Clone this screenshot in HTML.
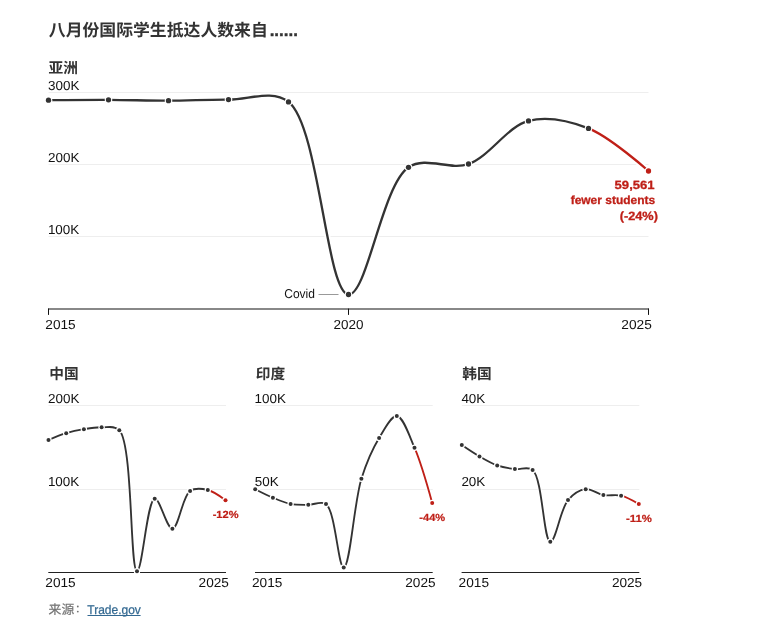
<!DOCTYPE html>
<html lang="zh"><head><meta charset="utf-8"><title>chart</title>
<style>
html,body{margin:0;padding:0;background:#fff;}
body{width:766px;height:638px;overflow:hidden;font-family:"Liberation Sans",sans-serif;}
svg{display:block;font-family:"Liberation Sans",sans-serif;}
</style></head><body>
<svg width="766" height="638" viewBox="0 0 766 638" style="will-change:transform;text-rendering:geometricPrecision">
<rect width="766" height="638" fill="#fff"/>
<text x="48.8" y="36" font-size="16.8" font-weight="bold" fill="#333" font-family="'Liberation Sans','Noto Sans CJK SC',sans-serif" textLength="219" lengthAdjust="spacingAndGlyphs">八月份国际学生抵达人数来自</text>
<text x="269.65" y="36" font-size="17" font-weight="bold" fill="#333" stroke="#333" stroke-width="0.4">......</text>
<text x="48.5" y="72.8" font-size="14.7" font-weight="bold" fill="#333" font-family="'Liberation Sans','Noto Sans CJK SC',sans-serif" textLength="29.4" lengthAdjust="spacingAndGlyphs">亚洲</text>
<line x1="48.5" y1="92.5" x2="648.5" y2="92.5" stroke="#eeeeee" stroke-width="1"/>
<text x="48.1" y="90" font-size="13" fill="#121212" textLength="31.4" lengthAdjust="spacingAndGlyphs">300K</text>
<line x1="48.5" y1="164.5" x2="648.5" y2="164.5" stroke="#eeeeee" stroke-width="1"/>
<text x="48.1" y="162" font-size="13" fill="#121212" textLength="31.4" lengthAdjust="spacingAndGlyphs">200K</text>
<line x1="48.5" y1="236.5" x2="648.5" y2="236.5" stroke="#eeeeee" stroke-width="1"/>
<text x="47.9" y="234" font-size="13" fill="#121212" textLength="31.4" lengthAdjust="spacingAndGlyphs">100K</text>
<line x1="48" y1="309" x2="649" y2="309" stroke="#121212" stroke-width="1.2"/>
<line x1="48.5" y1="308.6" x2="48.5" y2="314.9" stroke="#121212" stroke-width="1"/>
<line x1="348.5" y1="308.6" x2="348.5" y2="314.9" stroke="#121212" stroke-width="1"/>
<line x1="648.5" y1="308.6" x2="648.5" y2="314.9" stroke="#121212" stroke-width="1"/>
<text x="45.3" y="328.8" font-size="13" fill="#121212" textLength="30.4" lengthAdjust="spacingAndGlyphs">2015</text>
<text x="348.6" y="328.8" font-size="13" text-anchor="middle" fill="#121212" textLength="30" lengthAdjust="spacingAndGlyphs">2020</text>
<text x="651.8" y="328.8" font-size="13" text-anchor="end" fill="#121212" textLength="30.5" lengthAdjust="spacingAndGlyphs">2025</text>
<line x1="318.5" y1="294.5" x2="338.5" y2="294.5" stroke="#999" stroke-width="1"/>
<text x="284.2" y="298.3" font-size="12.8" fill="#121212" textLength="30.8" lengthAdjust="spacingAndGlyphs">Covid</text>
<path d="M48.5,100.2C48.5,100.2 88.5,99.72 108.5,99.8C128.5,99.88 148.5,100.73 168.5,100.7C188.5,100.67 208.5,99.4 228.5,99.6C248.5,99.8 271.71,89.04 288.5,101.9C319.28,125.47 326.35,292.96 348.5,294.5C367,295.79 382.09,185.08 408.5,167.3C425.76,155.68 449.43,170.72 468.5,164C489.64,156.55 507.39,126.27 528.5,120.9C547.59,116.04 569.39,120.97 588.5,128.4C609.58,136.6 648.5,171 648.5,171" fill="none" stroke="#fff" stroke-width="6" stroke-linecap="round"/>
<path d="M48.5,100.2C48.5,100.2 88.5,99.72 108.5,99.8C128.5,99.88 148.5,100.73 168.5,100.7C188.5,100.67 208.5,99.4 228.5,99.6C248.5,99.8 271.71,89.04 288.5,101.9C319.28,125.47 326.35,292.96 348.5,294.5C367,295.79 382.09,185.08 408.5,167.3C425.76,155.68 449.43,170.72 468.5,164C489.64,156.55 507.39,126.27 528.5,120.9C547.59,116.04 569.39,120.97 588.5,128.4" fill="none" stroke="#333" stroke-width="2.3"/>
<path d="M588.5,128.4C609.58,136.6 648.5,171 648.5,171" fill="none" stroke="#bf1f17" stroke-width="2.3"/>
<circle cx="48.5" cy="100.2" r="3.8" fill="#fff"/><circle cx="48.5" cy="100.2" r="2.65" fill="#333"/>
<circle cx="108.5" cy="99.8" r="3.8" fill="#fff"/><circle cx="108.5" cy="99.8" r="2.65" fill="#333"/>
<circle cx="168.5" cy="100.7" r="3.8" fill="#fff"/><circle cx="168.5" cy="100.7" r="2.65" fill="#333"/>
<circle cx="228.5" cy="99.6" r="3.8" fill="#fff"/><circle cx="228.5" cy="99.6" r="2.65" fill="#333"/>
<circle cx="288.5" cy="101.9" r="3.8" fill="#fff"/><circle cx="288.5" cy="101.9" r="2.65" fill="#333"/>
<circle cx="348.5" cy="294.5" r="3.8" fill="#fff"/><circle cx="348.5" cy="294.5" r="2.65" fill="#333"/>
<circle cx="408.5" cy="167.3" r="3.8" fill="#fff"/><circle cx="408.5" cy="167.3" r="2.65" fill="#333"/>
<circle cx="468.5" cy="164" r="3.8" fill="#fff"/><circle cx="468.5" cy="164" r="2.65" fill="#333"/>
<circle cx="528.5" cy="120.9" r="3.8" fill="#fff"/><circle cx="528.5" cy="120.9" r="2.65" fill="#333"/>
<circle cx="588.5" cy="128.4" r="3.8" fill="#fff"/><circle cx="588.5" cy="128.4" r="2.65" fill="#333"/>
<circle cx="648.5" cy="171" r="3.8" fill="#fff"/><circle cx="648.5" cy="171" r="2.65" fill="#bf1f17"/>
<text x="654.6" y="189" font-size="11.9" text-anchor="end" font-weight="bold" fill="#bf1f17" textLength="40" lengthAdjust="spacingAndGlyphs" stroke="#bf1f17" stroke-width="0.3">59,561</text>
<text x="655.1" y="204" font-size="11.8" text-anchor="end" font-weight="bold" fill="#bf1f17" textLength="84.4" lengthAdjust="spacingAndGlyphs" stroke="#bf1f17" stroke-width="0.3">fewer students</text>
<text x="657.9" y="220" font-size="12" text-anchor="end" font-weight="bold" fill="#bf1f17" textLength="38.2" lengthAdjust="spacingAndGlyphs" stroke="#bf1f17" stroke-width="0.3">(-24%)</text>
<text x="49.3" y="379.4" font-size="14.7" font-weight="bold" fill="#333" font-family="'Liberation Sans','Noto Sans CJK SC',sans-serif" textLength="29.4" lengthAdjust="spacingAndGlyphs">中国</text>
<line x1="48.5" y1="405.5" x2="226" y2="405.5" stroke="#eeeeee" stroke-width="1"/>
<text x="48.1" y="403" font-size="13" fill="#121212" textLength="31.4" lengthAdjust="spacingAndGlyphs">200K</text>
<line x1="48.5" y1="489.5" x2="226" y2="489.5" stroke="#eeeeee" stroke-width="1"/>
<text x="47.9" y="486" font-size="13" fill="#121212" textLength="31.4" lengthAdjust="spacingAndGlyphs">100K</text>
<line x1="48.3" y1="572.5" x2="226" y2="572.5" stroke="#222" stroke-width="1"/>
<text x="45.3" y="586.8" font-size="13" fill="#121212" textLength="30.4" lengthAdjust="spacingAndGlyphs">2015</text>
<text x="228.9" y="586.8" font-size="13" text-anchor="end" fill="#121212" textLength="30.3" lengthAdjust="spacingAndGlyphs">2025</text>
<path d="M48.5,440C48.5,440 60.23,435.01 66.2,433.2C72.04,431.43 77.97,430.18 83.9,429.2C89.77,428.22 95.71,427.14 101.6,427.3C107.51,427.46 114.4,425.11 119.3,430.2C133.11,444.53 129.8,570.89 137,571.3C142.22,571.6 147.17,499.81 154.7,498.7C159.84,497.94 166.74,528.97 172.4,528.7C178.59,528.41 182.3,496.27 190.1,491C195.19,487.56 202.09,488.65 207.8,490C213.92,491.45 225.5,500.2 225.5,500.2" fill="none" stroke="#fff" stroke-width="3.6" stroke-linecap="round"/>
<path d="M48.5,440C48.5,440 60.23,435.01 66.2,433.2C72.04,431.43 77.97,430.18 83.9,429.2C89.77,428.22 95.71,427.14 101.6,427.3C107.51,427.46 114.4,425.11 119.3,430.2C133.11,444.53 129.8,570.89 137,571.3C142.22,571.6 147.17,499.81 154.7,498.7C159.84,497.94 166.74,528.97 172.4,528.7C178.59,528.41 182.3,496.27 190.1,491C195.19,487.56 202.09,488.65 207.8,490" fill="none" stroke="#333" stroke-width="1.85"/>
<path d="M207.8,490C213.92,491.45 225.5,500.2 225.5,500.2" fill="none" stroke="#bf1f17" stroke-width="1.85"/>
<circle cx="48.5" cy="440" r="3.2" fill="#fff"/><circle cx="48.5" cy="440" r="2" fill="#333"/>
<circle cx="66.2" cy="433.2" r="3.2" fill="#fff"/><circle cx="66.2" cy="433.2" r="2" fill="#333"/>
<circle cx="83.9" cy="429.2" r="3.2" fill="#fff"/><circle cx="83.9" cy="429.2" r="2" fill="#333"/>
<circle cx="101.6" cy="427.3" r="3.2" fill="#fff"/><circle cx="101.6" cy="427.3" r="2" fill="#333"/>
<circle cx="119.3" cy="430.2" r="3.2" fill="#fff"/><circle cx="119.3" cy="430.2" r="2" fill="#333"/>
<circle cx="137" cy="571.3" r="3.2" fill="#fff"/><circle cx="137" cy="571.3" r="2" fill="#333"/>
<circle cx="154.7" cy="498.7" r="3.2" fill="#fff"/><circle cx="154.7" cy="498.7" r="2" fill="#333"/>
<circle cx="172.4" cy="528.7" r="3.2" fill="#fff"/><circle cx="172.4" cy="528.7" r="2" fill="#333"/>
<circle cx="190.1" cy="491" r="3.2" fill="#fff"/><circle cx="190.1" cy="491" r="2" fill="#333"/>
<circle cx="207.8" cy="490" r="3.2" fill="#fff"/><circle cx="207.8" cy="490" r="2" fill="#333"/>
<circle cx="225.5" cy="500.2" r="3.2" fill="#fff"/><circle cx="225.5" cy="500.2" r="2" fill="#bf1f17"/>
<text x="225.6" y="518.1" font-size="10.3" text-anchor="middle" font-weight="bold" fill="#bf1f17" textLength="25.9" lengthAdjust="spacingAndGlyphs" stroke="#bf1f17" stroke-width="0.2">-12%</text>
<text x="255.7" y="379.4" font-size="14.7" font-weight="bold" fill="#333" font-family="'Liberation Sans','Noto Sans CJK SC',sans-serif" textLength="29.4" lengthAdjust="spacingAndGlyphs">印度</text>
<line x1="255.2" y1="405.5" x2="432.7" y2="405.5" stroke="#eeeeee" stroke-width="1"/>
<text x="254.6" y="403" font-size="13" fill="#121212" textLength="31.4" lengthAdjust="spacingAndGlyphs">100K</text>
<line x1="255.2" y1="489.5" x2="432.7" y2="489.5" stroke="#eeeeee" stroke-width="1"/>
<text x="254.8" y="486" font-size="13" fill="#121212" textLength="23.9" lengthAdjust="spacingAndGlyphs">50K</text>
<line x1="255" y1="572.5" x2="432.7" y2="572.5" stroke="#222" stroke-width="1"/>
<text x="252" y="586.8" font-size="13" fill="#121212" textLength="30.4" lengthAdjust="spacingAndGlyphs">2015</text>
<text x="435.6" y="586.8" font-size="13" text-anchor="end" fill="#121212" textLength="30.3" lengthAdjust="spacingAndGlyphs">2025</text>
<path d="M255.2,489.2C255.2,489.2 266.93,495.23 272.9,497.7C278.73,500.11 284.61,502.72 290.6,503.9C296.42,505.04 302.4,504.77 308.3,504.8C314.2,504.83 321.07,500.51 326,504.1C335.5,511.02 338.2,567.71 343.7,567.5C350.15,567.26 354.02,502.39 361.4,478.8C366.57,462.26 372.36,449.15 379.1,438C384.47,429.11 391.23,415.53 396.8,416C403.12,416.53 409.14,435.37 414.5,447.7C421.27,463.28 432.2,502.9 432.2,502.9" fill="none" stroke="#fff" stroke-width="3.6" stroke-linecap="round"/>
<path d="M255.2,489.2C255.2,489.2 266.93,495.23 272.9,497.7C278.73,500.11 284.61,502.72 290.6,503.9C296.42,505.04 302.4,504.77 308.3,504.8C314.2,504.83 321.07,500.51 326,504.1C335.5,511.02 338.2,567.71 343.7,567.5C350.15,567.26 354.02,502.39 361.4,478.8C366.57,462.26 372.36,449.15 379.1,438C384.47,429.11 391.23,415.53 396.8,416C403.12,416.53 409.14,435.37 414.5,447.7" fill="none" stroke="#333" stroke-width="1.85"/>
<path d="M414.5,447.7C421.27,463.28 432.2,502.9 432.2,502.9" fill="none" stroke="#bf1f17" stroke-width="1.85"/>
<circle cx="255.2" cy="489.2" r="3.2" fill="#fff"/><circle cx="255.2" cy="489.2" r="2" fill="#333"/>
<circle cx="272.9" cy="497.7" r="3.2" fill="#fff"/><circle cx="272.9" cy="497.7" r="2" fill="#333"/>
<circle cx="290.6" cy="503.9" r="3.2" fill="#fff"/><circle cx="290.6" cy="503.9" r="2" fill="#333"/>
<circle cx="308.3" cy="504.8" r="3.2" fill="#fff"/><circle cx="308.3" cy="504.8" r="2" fill="#333"/>
<circle cx="326" cy="504.1" r="3.2" fill="#fff"/><circle cx="326" cy="504.1" r="2" fill="#333"/>
<circle cx="343.7" cy="567.5" r="3.2" fill="#fff"/><circle cx="343.7" cy="567.5" r="2" fill="#333"/>
<circle cx="361.4" cy="478.8" r="3.2" fill="#fff"/><circle cx="361.4" cy="478.8" r="2" fill="#333"/>
<circle cx="379.1" cy="438" r="3.2" fill="#fff"/><circle cx="379.1" cy="438" r="2" fill="#333"/>
<circle cx="396.8" cy="416" r="3.2" fill="#fff"/><circle cx="396.8" cy="416" r="2" fill="#333"/>
<circle cx="414.5" cy="447.7" r="3.2" fill="#fff"/><circle cx="414.5" cy="447.7" r="2" fill="#333"/>
<circle cx="432.2" cy="502.9" r="3.2" fill="#fff"/><circle cx="432.2" cy="502.9" r="2" fill="#bf1f17"/>
<text x="432.3" y="520.8" font-size="10.3" text-anchor="middle" font-weight="bold" fill="#bf1f17" textLength="25.9" lengthAdjust="spacingAndGlyphs" stroke="#bf1f17" stroke-width="0.2">-44%</text>
<text x="462.2" y="379.4" font-size="14.7" font-weight="bold" fill="#333" font-family="'Liberation Sans','Noto Sans CJK SC',sans-serif" textLength="29.4" lengthAdjust="spacingAndGlyphs">韩国</text>
<line x1="461.8" y1="405.5" x2="639.3" y2="405.5" stroke="#eeeeee" stroke-width="1"/>
<text x="461.4" y="403" font-size="13" fill="#121212" textLength="23.9" lengthAdjust="spacingAndGlyphs">40K</text>
<line x1="461.8" y1="489.5" x2="639.3" y2="489.5" stroke="#eeeeee" stroke-width="1"/>
<text x="461.4" y="486" font-size="13" fill="#121212" textLength="23.9" lengthAdjust="spacingAndGlyphs">20K</text>
<line x1="461.6" y1="572.5" x2="639.3" y2="572.5" stroke="#222" stroke-width="1"/>
<text x="458.6" y="586.8" font-size="13" fill="#121212" textLength="30.4" lengthAdjust="spacingAndGlyphs">2015</text>
<text x="642.2" y="586.8" font-size="13" text-anchor="end" fill="#121212" textLength="30.3" lengthAdjust="spacingAndGlyphs">2025</text>
<path d="M461.8,445C461.8,445 473.51,452.96 479.5,456.4C485.32,459.74 491.16,463.27 497.2,465.4C502.97,467.43 508.97,468.35 514.9,469.1C520.77,469.84 527.69,465.87 532.6,469.9C542.64,478.14 543.48,541.25 550.3,541.8C555.64,542.23 560.42,508.91 568,500.1C573.13,494.13 579.63,489.9 585.7,489.2C591.45,488.54 597.42,494.03 603.4,495.1C609.23,496.15 615.34,494.3 621.1,495.7C627.16,497.17 638.8,504.1 638.8,504.1" fill="none" stroke="#fff" stroke-width="3.6" stroke-linecap="round"/>
<path d="M461.8,445C461.8,445 473.51,452.96 479.5,456.4C485.32,459.74 491.16,463.27 497.2,465.4C502.97,467.43 508.97,468.35 514.9,469.1C520.77,469.84 527.69,465.87 532.6,469.9C542.64,478.14 543.48,541.25 550.3,541.8C555.64,542.23 560.42,508.91 568,500.1C573.13,494.13 579.63,489.9 585.7,489.2C591.45,488.54 597.42,494.03 603.4,495.1C609.23,496.15 615.34,494.3 621.1,495.7" fill="none" stroke="#333" stroke-width="1.85"/>
<path d="M621.1,495.7C627.16,497.17 638.8,504.1 638.8,504.1" fill="none" stroke="#bf1f17" stroke-width="1.85"/>
<circle cx="461.8" cy="445" r="3.2" fill="#fff"/><circle cx="461.8" cy="445" r="2" fill="#333"/>
<circle cx="479.5" cy="456.4" r="3.2" fill="#fff"/><circle cx="479.5" cy="456.4" r="2" fill="#333"/>
<circle cx="497.2" cy="465.4" r="3.2" fill="#fff"/><circle cx="497.2" cy="465.4" r="2" fill="#333"/>
<circle cx="514.9" cy="469.1" r="3.2" fill="#fff"/><circle cx="514.9" cy="469.1" r="2" fill="#333"/>
<circle cx="532.6" cy="469.9" r="3.2" fill="#fff"/><circle cx="532.6" cy="469.9" r="2" fill="#333"/>
<circle cx="550.3" cy="541.8" r="3.2" fill="#fff"/><circle cx="550.3" cy="541.8" r="2" fill="#333"/>
<circle cx="568" cy="500.1" r="3.2" fill="#fff"/><circle cx="568" cy="500.1" r="2" fill="#333"/>
<circle cx="585.7" cy="489.2" r="3.2" fill="#fff"/><circle cx="585.7" cy="489.2" r="2" fill="#333"/>
<circle cx="603.4" cy="495.1" r="3.2" fill="#fff"/><circle cx="603.4" cy="495.1" r="2" fill="#333"/>
<circle cx="621.1" cy="495.7" r="3.2" fill="#fff"/><circle cx="621.1" cy="495.7" r="2" fill="#333"/>
<circle cx="638.8" cy="504.1" r="3.2" fill="#fff"/><circle cx="638.8" cy="504.1" r="2" fill="#bf1f17"/>
<text x="638.9" y="522" font-size="10.3" text-anchor="middle" font-weight="bold" fill="#bf1f17" textLength="25.9" lengthAdjust="spacingAndGlyphs" stroke="#bf1f17" stroke-width="0.2">-11%</text>
<text x="48.6" y="614" font-size="12.8" fill="#727272" stroke="#727272" stroke-width="0.2" font-family="'Liberation Sans','Noto Sans CJK SC',sans-serif" textLength="25.6" lengthAdjust="spacingAndGlyphs">来源</text>
<circle cx="77.8" cy="606.5" r="0.9" fill="#727272"/><circle cx="77.8" cy="611.6" r="0.9" fill="#727272"/>
<text x="87.3" y="613.5" font-size="12.6" fill="#326891" textLength="53.5" lengthAdjust="spacingAndGlyphs" stroke="#326891" stroke-width="0.25">Trade.gov</text>
<line x1="87.5" y1="615.5" x2="140.6" y2="615.5" stroke="#326891" stroke-width="1"/>
</svg>
</body></html>
